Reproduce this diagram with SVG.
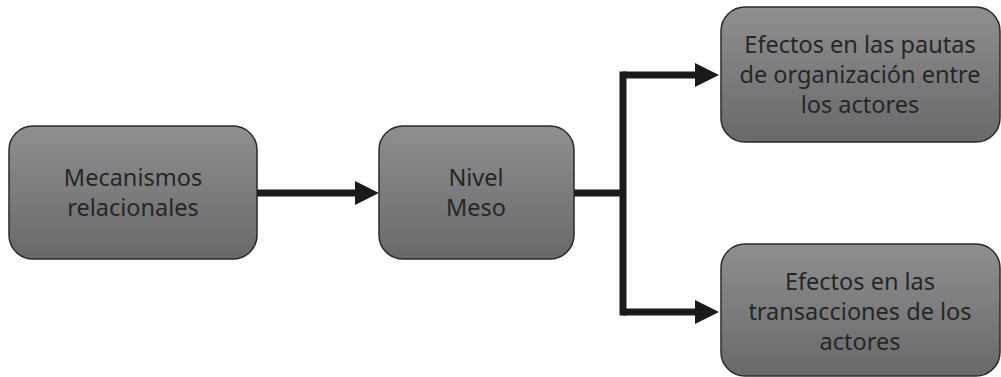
<svg xmlns="http://www.w3.org/2000/svg" width="1001" height="377" viewBox="0 0 1001 377">
<defs>
<linearGradient id="g" x1="0" y1="0" x2="0" y2="1">
<stop offset="0" stop-color="#8f8f91"/>
<stop offset="1" stop-color="#69696b"/>
</linearGradient>
<marker id="ah" markerUnits="userSpaceOnUse" markerWidth="26" markerHeight="26" refX="0" refY="12" orient="auto" overflow="visible">
<path d="M0,0 L24,12 L0,24 Z" fill="#1a1a1a"/>
</marker>
<style>
.box{fill:url(#g);stroke:#2a2a2a;stroke-width:1.5}
.t{font-family:"Noto Sans","Liberation Sans",sans-serif;font-size:23.5px;fill:#262626;text-anchor:middle}
.c{fill:none;stroke:#1a1a1a;stroke-width:7}
</style>
</defs>
<rect width="1001" height="377" fill="#fff"/>
<g id="connectors">
<path class="c" d="M257,193 L355,193" marker-end="url(#ah)"/>
<path class="c" d="M574,193 L623,193"/>
<path class="c" d="M623,75 L623,312" stroke-linecap="square"/>
<path class="c" d="M623,75 L695,75" marker-end="url(#ah)"/>
<path class="c" d="M623,312 L695,312" marker-end="url(#ah)"/>
</g>
<g id="n1">
<rect class="box" x="9" y="126" width="248" height="133" rx="24"/>
<text class="t" x="133" y="186">Mecanismos</text>
<text class="t" x="133" y="216">relacionales</text>
</g>
<g id="n2">
<rect class="box" x="379" y="126" width="195" height="133" rx="24"/>
<text class="t" x="476" y="186">Nivel</text>
<text class="t" x="476" y="216">Meso</text>
</g>
<g id="n3">
<rect class="box" x="721" y="7" width="279" height="135" rx="24"/>
<text class="t" x="860" y="53">Efectos en las pautas</text>
<text class="t" x="860" y="83">de organización entre</text>
<text class="t" x="860" y="113">los actores</text>
</g>
<g id="n4">
<rect class="box" x="721" y="244" width="279" height="132" rx="24"/>
<text class="t" x="860" y="290">Efectos en las</text>
<text class="t" x="860" y="320">transacciones de los</text>
<text class="t" x="860" y="350">actores</text>
</g>
</svg>
